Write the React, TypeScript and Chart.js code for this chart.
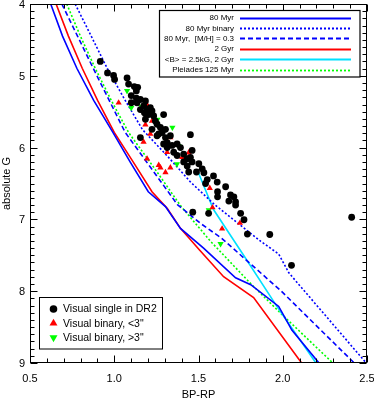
import React, { useEffect, useRef } from 'react';
import { Chart, registerables } from 'chart.js';

Chart.register(...registerables);

// ---------- data ----------
const xMajorTicks = [0.5, 1.0, 1.5, 2.0, 2.5];
const yMajorTicks = [4, 5, 6, 7, 8, 9];
const xTickLabels = ['0.5', '1.0', '1.5', '2.0', '2.5'];
const yTickLabels = ['4', '5', '6', '7', '8', '9'];

// isochrones (BP-RP, absolute G)
const myr80X = [0.623, 0.693, 0.778, 0.878, 0.992, 1.095, 1.202, 1.304, 1.393, 1.530, 1.720, 1.810, 1.976, 2.054, 2.214];
const myr80G = [4.0, 4.447, 4.895, 5.342, 5.789, 6.202, 6.615, 6.822, 7.125, 7.400, 7.813, 7.909, 8.212, 8.542, 8.997];

const myr80BinX = [0.768, 0.861, 0.958, 1.060, 1.167, 1.321, 1.452, 1.595, 1.869, 1.976, 2.036, 2.494];
const myr80BinG = [4.0, 4.437, 4.895, 5.322, 5.748, 6.133, 6.478, 6.794, 7.304, 7.482, 7.744, 8.997];

const myr80MetX = [0.689, 0.782, 0.875, 0.970, 1.065, 1.214, 1.375, 1.512, 1.637, 1.988, 2.423];
const myr80MetG = [4.0, 4.447, 4.895, 5.342, 5.789, 6.271, 6.794, 7.056, 7.262, 7.992, 8.997];

const gyr2X = [0.655, 0.728, 0.810, 0.901, 1.000, 1.113, 1.224, 1.315, 1.393, 1.506, 1.649, 1.827, 2.111];
const gyr2G = [4.0, 4.447, 4.895, 5.342, 5.789, 6.202, 6.615, 6.849, 7.125, 7.427, 7.799, 8.088, 8.997];

const magX = [1.496, 1.589, 1.790, 1.968, 2.196];
const magG = [6.330, 6.863, 7.579, 8.222, 8.997];

const pleiadesX = [0.718, 0.799, 0.887, 0.982, 1.085, 1.254, 1.393, 1.571, 1.810, 1.988, 2.296];
const pleiadesG = [4.0, 4.447, 4.895, 5.342, 5.789, 6.340, 6.808, 7.304, 7.895, 8.308, 8.997];

// stars
const singleX = [0.917, 0.960, 0.996, 1.002, 1.076, 1.085, 1.119, 1.139, 1.101, 1.131, 1.155, 1.135, 1.101, 1.185,
  1.195, 1.179, 1.204, 1.214, 1.224, 1.234, 1.293, 1.185, 1.244, 1.254, 1.224, 1.274, 1.304, 1.284, 1.254, 1.304,
  1.333, 1.452, 1.314, 1.343, 1.293, 1.373, 1.393, 1.412, 1.433, 1.462, 1.373, 1.452, 1.462, 1.412, 1.502, 1.433,
  1.442, 1.488, 1.522, 1.532, 1.589, 1.552, 1.542, 1.661, 1.613, 1.613, 1.690, 1.710, 1.680, 1.720, 1.720, 1.466,
  1.560, 1.750, 1.770, 1.790, 1.923, 2.052, 2.409, 1.155, 1.264, 1.314, 1.611, 1.353, 1.131, 1.155, 1.175];
const singleG = [4.80, 4.96, 4.995, 5.05, 5.03, 5.115, 5.15, 5.16, 5.275, 5.31, 5.33, 5.375, 5.375, 5.35,
  5.47, 5.515, 5.54, 5.445, 5.49, 5.56, 5.54, 5.605, 5.63, 5.675, 5.745, 5.72, 5.745, 5.79, 5.835, 5.86,
  5.835, 5.82, 5.93, 5.97, 5.95, 5.95, 6.00, 6.09, 6.155, 6.04, 6.11, 6.135, 6.20, 6.20, 6.225, 6.255,
  6.34, 6.34, 6.295, 6.35, 6.395, 6.445, 6.50, 6.545, 6.615, 6.685, 6.66, 6.685, 6.745, 6.755, 6.80, 6.90,
  6.915, 6.915, 7.005, 7.205, 7.21, 7.64, 6.97, 5.86, 5.81, 6.00, 6.48, 6.065, 5.21, 5.47, 5.42];

const closeBinX = [1.026, 1.195, 1.224, 1.185, 1.214, 1.333, 1.174, 1.314, 1.403, 1.442, 1.195, 1.264, 1.274,
  1.304, 1.333, 1.567, 1.746, 1.640, 1.583];
const closeBinG = [5.375, 5.405, 5.63, 5.68, 5.81, 5.86, 5.92, 6.065, 6.135, 6.07, 6.155, 6.245, 6.28,
  6.345, 6.28, 6.565, 7.05, 7.13, 6.835];

const wideBinX = [1.076, 1.125, 1.101, 1.161, 1.196, 1.256, 1.345, 1.315, 1.381, 1.372, 1.561, 1.631];
const wideBinG = [5.21, 5.19, 5.445, 5.43, 5.44, 5.61, 5.72, 5.86, 5.975, 6.23, 6.87, 7.34];

// ---------- helpers ----------
const pts = (xs: number[], ys: number[]) => xs.map((x, i) => ({ x, y: ys[i] }));

const FONT = "'Liberation Sans', Arial, Helvetica, sans-serif";

const lineDs = (label: string, xs: number[], ys: number[], color: string, dash: number[]) => ({
  label,
  data: pts(xs, ys),
  showLine: true,
  borderColor: color,
  backgroundColor: color,
  borderWidth: 1.6,
  borderDash: dash,
  pointRadius: 0,
  fill: false,
  tension: 0,
  isLine: true,
});

const pointDs = (label: string, xs: number[], ys: number[], color: string, style: string, rot: number, r: number) => ({
  label,
  data: pts(xs, ys),
  showLine: false,
  backgroundColor: color,
  borderColor: color,
  pointStyle: style,
  pointRotation: rot,
  pointRadius: r,
  pointBorderWidth: 0,
  isLine: false,
});

function drawMarker(ctx: CanvasRenderingContext2D, style: string, rot: number, x: number, y: number, r: number, color: string) {
  ctx.fillStyle = color;
  ctx.beginPath();
  if (style === 'circle') {
    ctx.arc(x, y, r, 0, Math.PI * 2);
  } else {
    let a = (rot * Math.PI) / 180;
    for (let k = 0; k < 3; k++) {
      const px = x + Math.sin(a) * r;
      const py = y - Math.cos(a) * r;
      if (k === 0) ctx.moveTo(px, py);
      else ctx.lineTo(px, py);
      a += (2 * Math.PI) / 3;
    }
    ctx.closePath();
  }
  ctx.fill();
}

const framePlugin = {
  id: 'frameTicks',
  afterDatasetsDraw(chart: any) {
    const { ctx, chartArea: a, scales } = chart;
    const xs = scales.x;
    const ys = scales.y;
    ctx.save();
    ctx.strokeStyle = '#000';
    ctx.lineWidth = 1;
    const L = Math.round(a.left) + 0.5;
    const R = Math.round(a.right) - 0.5;
    const T = Math.round(a.top) + 0.5;
    const B = Math.round(a.bottom) - 0.5;
    ctx.strokeRect(L, T, R - L, B - T);
    ctx.beginPath();
    for (let i = 0; i <= 20; i++) {
      const v = 0.5 + i * 0.1;
      const px = Math.round(xs.getPixelForValue(v)) + 0.5;
      const len = i % 5 === 0 ? 7 : 4;
      ctx.moveTo(px, B); ctx.lineTo(px, B - len);
      ctx.moveTo(px, T); ctx.lineTo(px, T + len);
    }
    for (let i = 0; i <= 50; i++) {
      const v = 4 + i * 0.1;
      const py = Math.round(ys.getPixelForValue(v)) + 0.5;
      const len = i % 10 === 0 ? 7 : 4;
      ctx.moveTo(L, py); ctx.lineTo(L + len, py);
      ctx.moveTo(R, py); ctx.lineTo(R - len, py);
    }
    ctx.stroke();
    ctx.restore();
  },
};

const legendPlugin = {
  id: 'twoLegends',
  afterDraw(chart: any) {
    const ctx: CanvasRenderingContext2D = chart.ctx;
    const dss = chart.data.datasets as any[];
    ctx.save();
    // top-right: lines
    const lines = dss.filter((d) => d.isLine);
    ctx.fillStyle = '#fff';
    ctx.fillRect(159.5, 10.5, 200.5, 66.5);
    ctx.strokeStyle = '#000';
    ctx.lineWidth = 1.2;
    ctx.strokeRect(159.5, 10.5, 200.5, 66.5);
    ctx.font = `8px ${FONT}`;
    ctx.textAlign = 'right';
    ctx.textBaseline = 'middle';
    lines.forEach((d, i) => {
      const y = 17.5 + i * 10.4;
      ctx.fillStyle = '#000';
      ctx.fillText(d.label, 234, y + 0.5);
      ctx.beginPath();
      ctx.strokeStyle = d.borderColor;
      ctx.lineWidth = 1.8;
      ctx.setLineDash(d.borderDash || []);
      ctx.moveTo(240, Math.round(y) + 0.5);
      ctx.lineTo(351, Math.round(y) + 0.5);
      ctx.stroke();
      ctx.setLineDash([]);
    });
    // bottom-left: markers
    const marks = dss.filter((d) => !d.isLine);
    ctx.fillStyle = '#fff';
    ctx.fillRect(39.5, 297.5, 123, 51.5);
    ctx.strokeStyle = '#000';
    ctx.lineWidth = 1;
    ctx.strokeRect(39.5, 297.5, 123, 51.5);
    ctx.font = `10.5px ${FONT}`;
    ctx.textAlign = 'left';
    ctx.textBaseline = 'middle';
    marks.forEach((d, i) => {
      const y = 309 + i * 14.3;
      drawMarker(ctx, d.pointStyle, d.pointRotation, 53.5, y, d.pointStyle === 'circle' ? 3.8 : 4.6, d.backgroundColor);
      ctx.fillStyle = '#000';
      ctx.fillText(d.label, 63, y + 0.5);
    });
    ctx.restore();
  },
};

export default function App() {
  const ref = useRef<HTMLCanvasElement>(null);
  useEffect(() => {
    Chart.defaults.color = '#000';
    Chart.defaults.font.family = FONT;
    const datasets: any[] = [
      pointDs('Visual single in DR2', singleX, singleG, '#000000', 'circle', 0, 3.4),
      pointDs('Visual binary, <3"', closeBinX, closeBinG, '#ff0000', 'triangle', 0, 3.6),
      pointDs('Visual binary, >3"', wideBinX, wideBinG, '#00ff00', 'triangle', 180, 3.6),
      lineDs('80 Myr', myr80X, myr80G, '#0000ff', []),
      lineDs('80 Myr binary', myr80BinX, myr80BinG, '#0000ff', [2, 2]),
      lineDs('80 Myr,  [M/H] = 0.3', myr80MetX, myr80MetG, '#0000ff', [5, 3]),
      lineDs('2 Gyr', gyr2X, gyr2G, '#ff0000', []),
      lineDs('<B> = 2.5kG, 2 Gyr', magX, magG, '#00e0ff', []),
      lineDs('Pleiades 125 Myr', pleiadesX, pleiadesG, '#00ff00', [2, 2]),
    ];
    const chart = new Chart(ref.current!, {
      type: 'scatter',
      data: { datasets },
      options: {
        responsive: false,
        animation: false,
        devicePixelRatio: 1,
        layout: { padding: { top: 1, left: 0, right: 7, bottom: 0 } },
        plugins: { legend: { display: false }, tooltip: { enabled: false } },
        scales: {
          x: {
            type: 'linear',
            min: 0.5,
            max: 2.5,
            grid: { display: false, drawTicks: false },
            border: { display: false },
            afterBuildTicks: (s: any) => { s.ticks = xMajorTicks.map((v) => ({ value: v })); },
            ticks: {
              padding: 9,
              font: { size: 11 },
              maxRotation: 0,
              callback: (v: any) => xTickLabels[xMajorTicks.indexOf(Number(v))] ?? '',
            },
            afterFit: (s: any) => { s.height = 36; s.paddingLeft = 0; s.paddingRight = 0; },
            title: { display: true, text: 'BP-RP', font: { size: 11, lineHeight: '8px' }, padding: { top: 0, bottom: 0 } },
          },
          y: {
            type: 'linear',
            min: 4,
            max: 9,
            reverse: true,
            grid: { display: false, drawTicks: false },
            border: { display: false },
            afterBuildTicks: (s: any) => { s.ticks = yMajorTicks.map((v) => ({ value: v })); },
            ticks: {
              padding: 5,
              font: { size: 11 },
              labelOffset: 1,
              callback: (v: any) => yTickLabels[yMajorTicks.indexOf(Number(v))] ?? '',
            },
            afterFit: (s: any) => { s.width = 30; s.paddingTop = 0; s.paddingBottom = 0; },
            title: { display: true, text: 'absolute G', font: { size: 11, lineHeight: '14px' }, padding: { top: 0, bottom: 0 } },
          },
        },
      },
      plugins: [framePlugin, legendPlugin],
    } as any);
    return () => chart.destroy();
  }, []);
  return (
    <div style={{ position: 'absolute', left: 0, top: 0, width: 374, height: 399, background: '#fff' }}>
      <canvas ref={ref} width={374} height={399} style={{ display: 'block', width: 374, height: 399 }} />
    </div>
  );
}
